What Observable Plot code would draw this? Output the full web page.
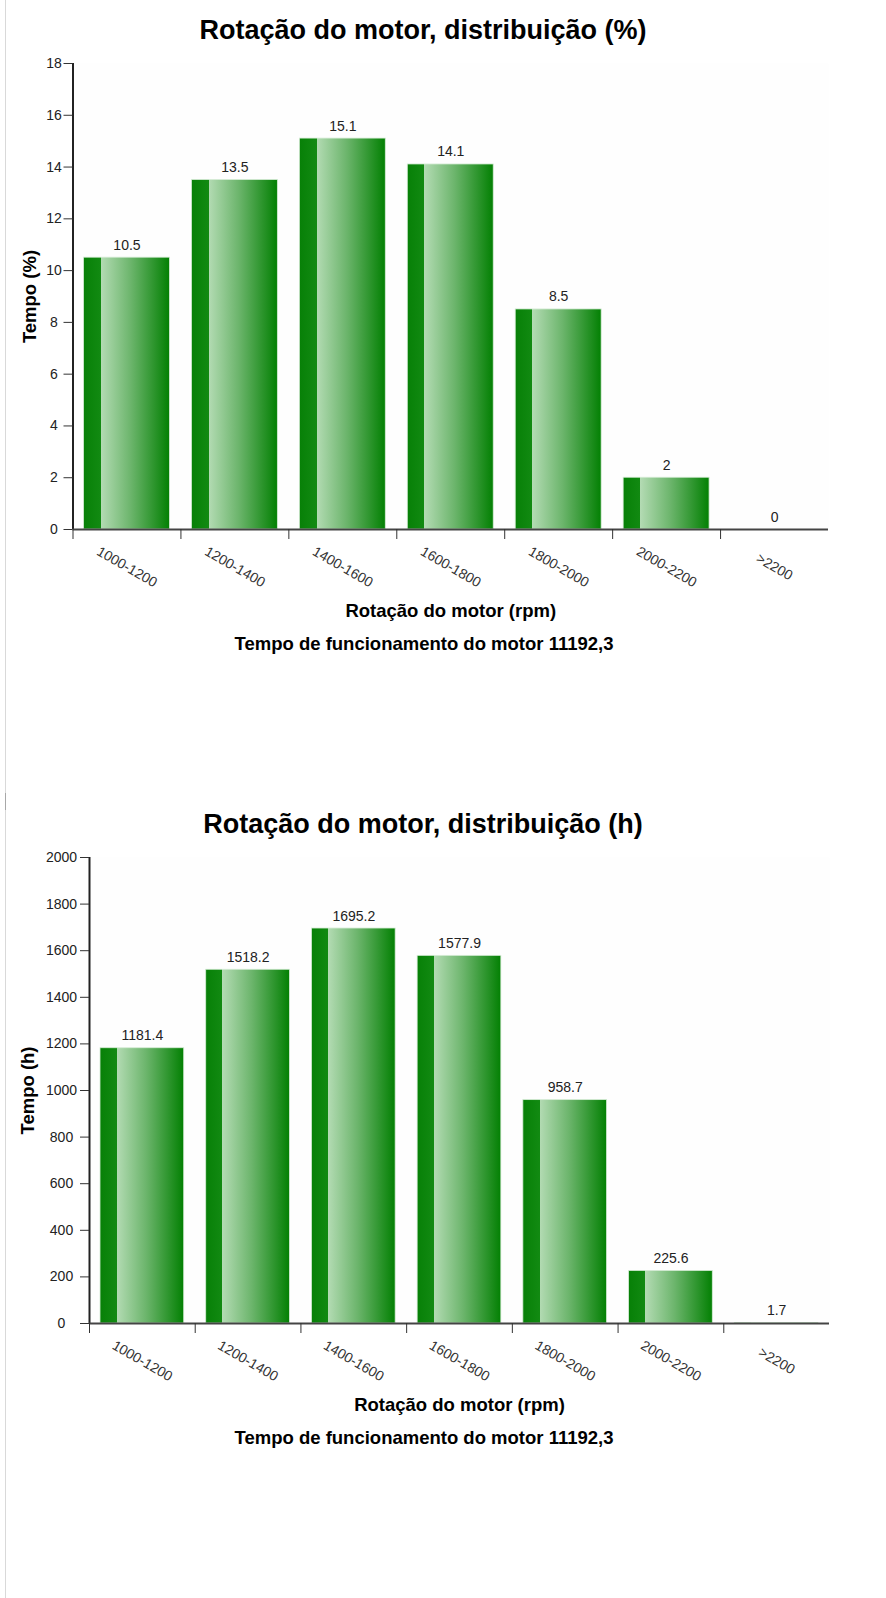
<!DOCTYPE html>
<html>
<head>
<meta charset="utf-8">
<script src="https://cdn.jsdelivr.net/npm/d3@7"></script>
<script src="https://cdn.jsdelivr.net/npm/@observablehq/plot@0.6"></script>
<style>
html, body { margin: 0; padding: 0; background: #fff; }
#page { position: relative; width: 886px; height: 1598px; overflow: hidden; font-family: "Liberation Sans", Arial, sans-serif; }
.border { position: absolute; left: 5px; top: 0; width: 1px; height: 1598px; background: #d9d9d9; }
.border-dark { position: absolute; left: 5px; top: 793px; width: 1px; height: 17px; background: #a8a8a8; }
.title { position: absolute; left: 0; width: 846px; text-align: center; font-weight: bold; font-size: 27px; line-height: 32px; color: #000; }
.caption { position: absolute; left: 0; width: 848px; text-align: center; font-weight: bold; font-size: 18.5px; line-height: 22px; color: #000; }
.chart { position: absolute; left: 0; }
</style>
</head>
<body>
<div id="page"><div class="border"></div><div class="border-dark"></div></div>
<script>
// ---- data ----
const categories = ["1000-1200", "1200-1400", "1400-1600", "1600-1800", "1800-2000", "2000-2200", ">2200"];
const percentValues = [10.5, 13.5, 15.1, 14.1, 8.5, 2, 0];
const hourValues = [1181.4, 1518.2, 1695.2, 1577.9, 958.7, 225.6, 1.7];
const percentTicks = [0, 2, 4, 6, 8, 10, 12, 14, 16, 18];
const hourTicks = [0, 200, 400, 600, 800, 1000, 1200, 1400, 1600, 1800, 2000];
const percentTitle = "Rotação do motor, distribuição (%)";
const hourTitle = "Rotação do motor, distribuição (h)";
const percentYLabel = "Tempo (%)";
const hourYLabel = "Tempo (h)";
const xLabel = "Rotação do motor (rpm)";
const captionText = "Tempo de funcionamento do motor 11192,3";

const page = document.getElementById("page");
const FONT = "'Liberation Sans', Arial, sans-serif";

function addGradient(svg, id) {
  const ns = "http://www.w3.org/2000/svg";
  const defs = document.createElementNS(ns, "defs");
  const g = document.createElementNS(ns, "linearGradient");
  g.setAttribute("id", id);
  g.setAttribute("x1", "0"); g.setAttribute("x2", "1");
  g.setAttribute("y1", "0"); g.setAttribute("y2", "0");
  const stops = [
    [0, "#078007"], [0.2, "#128a12"],
    [0.2, "#b3dbb3"], [0.55, "#6cb56c"], [1, "#038003"]
  ];
  for (const [o, c] of stops) {
    const s = document.createElementNS(ns, "stop");
    s.setAttribute("offset", o);
    s.setAttribute("stop-color", c);
    g.appendChild(s);
  }
  defs.appendChild(g);
  svg.insertBefore(defs, svg.firstChild);
}

function drawChart(cfg) {
  const {values, ticks, yMax, yLabel, title, top, marginLeft, marginRight, gradId, labelCenter, yLabelDx} = cfg;
  const rows = categories.map((c, i) => ({cat: c, i, v: values[i]}));

  const t = document.createElement("div");
  t.className = "title";
  t.style.top = (top + 14) + "px";
  t.textContent = title;
  page.appendChild(t);

  const height = 588;
  const svg = Plot.plot({
    width: 886,
    height,
    marginTop: 18,
    marginBottom: height - 18 - 466,
    marginLeft,
    marginRight,
    style: {fontFamily: FONT, fontSize: "14px", color: "#222", background: "transparent", overflow: "visible"},
    x: {type: "linear", domain: [0, categories.length]},
    y: {domain: [0, yMax]},
    marks: [
      Plot.frame({fill: "#fefefe", stroke: null}),
      Plot.rect(rows, {
        x1: d => d.i, x2: d => d.i + 1, y1: 0, y2: d => d.v,
        insetLeft: 11, insetRight: 11,
        fill: `url(#${gradId})`,
        stroke: "#d6ecd6", strokeWidth: 0.8
      }),
      Plot.text(rows, {
        x: d => d.i + 0.5, y: d => d.v, text: d => String(d.v),
        lineAnchor: "bottom", dy: -8, fill: "#222", fontSize: 14
      }),
      Plot.ruleX([0], {stroke: "#222", strokeWidth: 2}),
      Plot.ruleY([0], {stroke: "#444", strokeWidth: 2}),
      Plot.axisY({
        ticks, tickSize: 9, tickPadding: labelCenter - 9, textAnchor: "middle",
        tickFormat: d => String(d),
        label: null, fill: "#222", stroke: "#333", fontSize: 14
      }),
      Plot.axisX({
        ticks: d3.range(categories.length), tickSize: 10,
        tickFormat: () => "", label: null, stroke: "#333"
      }),
      Plot.text(rows, {
        x: d => d.i + 0.5, frameAnchor: "bottom", dy: 37.5, text: d => d.cat,
        rotate: 30, textAnchor: "middle", lineAnchor: "middle", fill: "#333", fontSize: 14
      }),
      Plot.text([yLabel], {
        frameAnchor: "left", dx: yLabelDx, rotate: -90, text: d => d,
        textAnchor: "middle", lineAnchor: "middle", fontWeight: "bold", fontSize: 18.5, fill: "#000"
      }),
      Plot.text([xLabel], {
        frameAnchor: "bottom", dy: 87, text: d => d,
        textAnchor: "middle", lineAnchor: "bottom", fontWeight: "bold", fontSize: 18.5, fill: "#000"
      })
    ]
  });
  addGradient(svg, gradId);
  const wrap = document.createElement("div");
  wrap.className = "chart";
  wrap.style.top = (top + 45) + "px";
  wrap.appendChild(svg);
  page.appendChild(wrap);

  const cap = document.createElement("div");
  cap.className = "caption";
  cap.style.top = (top + 633) + "px";
  cap.textContent = captionText;
  page.appendChild(cap);
}

drawChart({
  values: percentValues, ticks: percentTicks, yMax: 18, yLabel: percentYLabel, title: percentTitle,
  top: 0, marginLeft: 72.5, marginRight: 58, gradId: "barGradA", labelCenter: 19, yLabelDx: -42.5
});
drawChart({
  values: hourValues, ticks: hourTicks, yMax: 2000, yLabel: hourYLabel, title: hourTitle,
  top: 794, marginLeft: 89, marginRight: 57, gradId: "barGradB", labelCenter: 28, yLabelDx: -61
});
</script>
</body>
</html>
